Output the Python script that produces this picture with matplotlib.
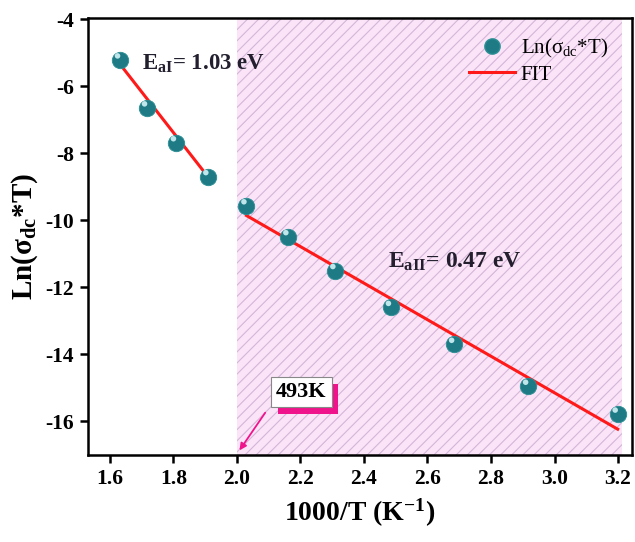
import numpy as np
import matplotlib.pyplot as plt
import matplotlib.patheffects as pe
from matplotlib.patches import Rectangle
from matplotlib.lines import Line2D

plt.rcParams['font.family'] = ['Liberation Serif', 'DejaVu Serif']
plt.rcParams['mathtext.fontset'] = 'custom'
plt.rcParams['mathtext.rm'] = 'Liberation Serif'
plt.rcParams['mathtext.it'] = 'Liberation Serif:italic'
plt.rcParams['mathtext.bf'] = 'Liberation Serif:bold'
plt.rcParams['axes.unicode_minus'] = False
plt.rcParams['hatch.linewidth'] = 0.8

# 1000/T (K^-1) and Ln(sigma_dc*T)
inv_t = [1.632, 1.717, 1.808, 1.910, 2.030, 2.162, 2.310, 2.485, 2.684, 2.917, 3.199]
ln_sig = [-5.22, -6.65, -7.69, -8.70, -9.57, -10.49, -11.50, -12.60, -13.70, -14.95, -15.78]

# fit ranges (high-T and low-T regions)
fit1_x = [1.632, 1.910]
fit1_y = [-5.35, -8.72]
fit2_x = [2.030, 3.199]
fit2_y = [-9.86, -16.23]

teal = '#1e7b86'

fig = plt.figure(figsize=(6.35, 5.42), dpi=100)
ax = fig.add_axes([88/635, 1-455/542, (632-88)/635, (455-18)/542])

# shaded low-temperature region
ax.add_patch(Rectangle((2.0, -17), 3.213-2.0, 13, facecolor='#fbe4f8',
                       edgecolor='#d4b6d8', hatch='///', linewidth=0, zorder=0))

ax.plot(fit1_x, fit1_y, color='#ff1a1a', lw=2.2, zorder=2)
ax.plot(fit2_x, fit2_y, color='#ff1a1a', lw=2.2, zorder=2)

# spherical markers: body plus highlight
ax.scatter(inv_t, ln_sig, s=140, color=teal, edgecolor='#2a8f94', lw=0.6, zorder=3)
ax.scatter(np.array(inv_t) - 0.008, np.array(ln_sig) + 0.12, s=16, color='#bfe6ea',
           edgecolor='none', zorder=4)

ax.set_xlim(1.531, 3.244)
ax.set_ylim(-17.0, -3.97)
ax.set_xticks(np.arange(1.6, 3.21, 0.2))
ax.set_yticks(np.arange(-16, -3, 2))
ax.tick_params(direction='out', length=6, width=1.8, labelsize=15.5, pad=4)
for lbl in ax.get_xticklabels() + ax.get_yticklabels():
    lbl.set_fontweight('bold')
for sp in ax.spines.values():
    sp.set_linewidth(1.8)

ax.set_xlabel(r'1000/T (K$\mathbf{^{-1}}$)', fontsize=20, fontweight='bold', labelpad=6)
ax.set_ylabel(r'Ln($\mathbf{\sigma_{dc}}$*T)', fontsize=21, fontweight='bold', labelpad=4)

ax.text(1.70, -5.35, r'E$\mathbf{_{aI}}$= 1.03 eV', fontsize=16.5, fontweight='bold',
        color='#231f2e', va='center')
ax.text(2.475, -11.25, r'E$\mathbf{_{aII}}$= 0.47 eV', fontsize=17, fontweight='bold',
        color='#231f2e', va='center')

# 493K marker with shadowed box
ax.annotate('', xy=(2.003, -16.93), xytext=(2.094, -15.67),
            arrowprops=dict(arrowstyle='-|>', color='#f0148c', lw=1.3, mutation_scale=10))
t = ax.text(2.203, -15.12, '493K', fontsize=16, fontweight='bold', ha='center', va='center',
            zorder=6, bbox=dict(boxstyle='square,pad=0.22', facecolor='white',
                                edgecolor='#888888', lw=0.8))
t.get_bbox_patch().set_path_effects([
    pe.SimplePatchShadow(offset=(5, -5), shadow_rgbFace='#f0148c', alpha=1.0),
    pe.Normal()])

handles = [
    Line2D([], [], marker='o', ls='none', markersize=11, color=teal,
           markeredgecolor='#2a8f94'),
    Line2D([], [], color='#ff1a1a', lw=2.2),
]
ax.legend(handles, [r'Ln($\mathregular{\sigma_{dc}}$*T)', 'FIT'], loc='upper right',
          bbox_to_anchor=(0.99, 1.0), frameon=False, fontsize=15,
          handlelength=2.2, labelspacing=0.25, handletextpad=0.3)

fig.savefig('out.png', dpi=100)
